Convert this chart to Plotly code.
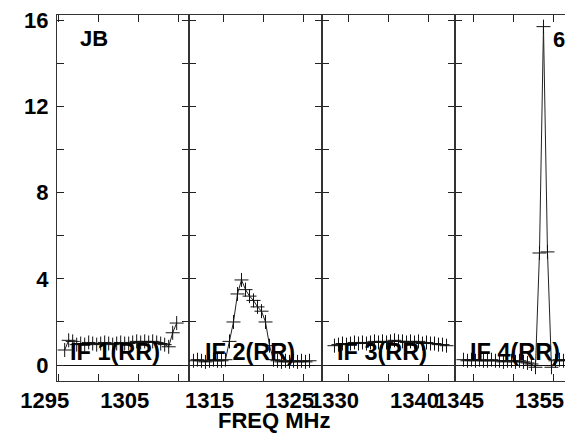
import plotly.graph_objects as go

# ---- data ----
if1_freq = [1295.75, 1296.25, 1296.75, 1297.25, 1297.75, 1298.25, 1298.75, 1299.25, 1299.75,
            1300.25, 1300.75, 1301.25, 1301.75, 1302.25, 1302.75, 1303.25, 1303.75, 1304.25,
            1304.75, 1305.25, 1305.75, 1306.25, 1306.75, 1307.25, 1307.75, 1308.25, 1308.75,
            1309.25, 1309.75]
if1_amp = [0.7, 1.15, 1.1, 0.95, 1.0, 0.95, 1.05, 1.0, 0.95,
           1.0, 1.05, 1.0, 0.95, 1.0, 1.05, 1.0, 1.0, 1.05,
           1.1, 1.05, 1.1, 1.05, 1.1, 1.05, 1.0, 0.95, 0.85,
           1.5, 1.95]

if2_freq = [1311.25, 1311.75, 1312.25, 1312.75, 1313.25, 1313.75, 1314.25, 1314.75, 1315.25,
            1315.75, 1316.25, 1316.75, 1317.25, 1317.75, 1318.25, 1318.75, 1319.25, 1319.75,
            1320.25, 1320.75, 1321.25, 1321.75, 1322.25, 1322.75, 1323.25, 1323.75, 1324.25,
            1324.75, 1325.25, 1325.75]
if2_amp = [0.2, 0.25, 0.2, 0.15, 0.2, 0.25, 0.2, 0.2, 0.25,
           1.1, 2.0, 3.3, 3.95, 3.5, 3.2, 3.0, 2.7, 2.5,
           2.0, 0.9, 0.25, 0.2, 0.15, 0.2, 0.15, 0.2, 0.15,
           0.2, 0.15, 0.2]

if3_freq = [1328.25, 1328.75, 1329.25, 1329.75, 1330.25, 1330.75, 1331.25, 1331.75, 1332.25,
            1332.75, 1333.25, 1333.75, 1334.25, 1334.75, 1335.25, 1335.75, 1336.25, 1336.75,
            1337.25, 1337.75, 1338.25, 1338.75, 1339.25, 1339.75, 1340.25, 1340.75, 1341.25,
            1341.75, 1342.25]
if3_amp = [0.9, 0.95, 1.0, 0.95, 1.0, 1.05, 1.0, 1.05, 1.0,
           1.05, 1.1, 1.05, 1.1, 1.05, 1.1, 1.15, 1.1, 1.1,
           1.05, 1.1, 1.05, 1.1, 1.0, 1.05, 1.0, 1.0, 0.95,
           0.95, 0.9]

if4_freq = [1343.75, 1344.25, 1344.75, 1345.25, 1345.75, 1346.25, 1346.75, 1347.25, 1347.75,
            1348.25, 1348.75, 1349.25, 1349.75, 1350.25, 1350.75, 1351.25, 1351.75, 1352.25,
            1352.75, 1353.25, 1353.75, 1354.25, 1354.75, 1355.25, 1355.75, 1356.25, 1356.75,
            1357.25]
if4_amp = [0.25, 0.2, 0.25, 0.2, 0.25, 0.2, 0.2, 0.25, 0.2,
           0.2, 0.15, 0.2, 0.2, 0.15, 0.2, 0.15, 0.1, 0.05,
           -0.1, 5.2, 15.7, 5.25, -0.1, 0.2, 0.25, 0.2, 0.25,
           0.2]

if_labels = ["IF 1(RR)", "IF 2(RR)", "IF 3(RR)", "IF 4(RR)"]
x_ranges = [[1294.79, 1311.29], [1310.69, 1327.31], [1326.69, 1343.31], [1342.69, 1357.44]]
x_tickvals = [[1295, 1300, 1305, 1310], [1315, 1320, 1325], [1330, 1335, 1340], [1345, 1350, 1355]]
x_ticktext = [["1295", "", "1305", ""], ["1315", "", "1325"], ["1330", "", "1340"], ["1345", "", "1355"]]
y_tickvals = [0, 2, 4, 6, 8, 10, 12, 14, 16]
y_ticktext = ["0", "", "4", "", "8", "", "12", "", "16"]
y_range = [-0.738, 16.24]

# page offset from the default 8px body margin
OFF = 8
W, H = 573 - OFF, 434 - OFF
PLOT_L, PLOT_R, PLOT_T, PLOT_B = 57, 573, 13, 381   # page pixels of the plotting area
ML, MR, MT, MB = PLOT_L - OFF, 0, PLOT_T - OFF, H - (PLOT_B - OFF)
bounds_px = [57, 189, 322, 455, 573]
pw = PLOT_R - PLOT_L
ph = PLOT_B - PLOT_T
domains = [[(bounds_px[i] - PLOT_L) / pw, (bounds_px[i + 1] - PLOT_L) / pw] for i in range(4)]


def px_x(x):
    return (x - PLOT_L) / pw


def px_y(y):
    return (PLOT_B - y) / ph


FONT = "Liberation Sans, Arial, sans-serif"
series = [(if1_freq, if1_amp), (if2_freq, if2_amp), (if3_freq, if3_amp), (if4_freq, if4_amp)]

fig = go.Figure()
for i, (fx, fy) in enumerate(series):
    ax = "" if i == 0 else str(i + 1)
    fig.add_trace(go.Scatter(
        x=fx, y=fy, mode="lines+markers",
        xaxis="x" + ax, yaxis="y" + ax,
        line=dict(color="#222222", width=1),
        marker=dict(symbol="cross-thin", size=10, line=dict(color="#111111", width=1)),
        showlegend=False, hoverinfo="skip"))

layout = dict(
    width=W, height=H, margin=dict(l=ML, r=MR, t=MT, b=MB, pad=0),
    paper_bgcolor="white", plot_bgcolor="white",
    font=dict(family=FONT, color="black"),
)
for i in range(4):
    ax = "" if i == 0 else str(i + 1)
    layout["xaxis" + ax] = dict(
        domain=domains[i], range=x_ranges[i], anchor="y" + ax,
        tickmode="array", tickvals=x_tickvals[i], ticktext=x_ticktext[i],
        ticks="inside", ticklen=7, tickwidth=1, tickcolor="#222222",
        showline=True, linecolor="#333333", linewidth=1, mirror="ticks",
        showgrid=False, zeroline=False,
        tickfont=dict(family=FONT, size=22, weight="bold", color="black"),
        ticklabelshift=-14, ticklabelstandoff=0, ticklabeloverflow="allow",
    )
    layout["yaxis" + ax] = dict(
        domain=[0, 1], range=y_range, anchor="x" + ax,
        tickmode="array", tickvals=y_tickvals, ticktext=y_ticktext,
        ticks="inside", ticklen=7, tickwidth=1, tickcolor="#222222",
        showline=True, linecolor="#333333", linewidth=1,
        mirror=("ticks" if i < 3 else False),
        showgrid=False, zeroline=True, zerolinecolor="#111111", zerolinewidth=1,
        showticklabels=(i == 0),
        tickfont=dict(family=FONT, size=22, weight="bold", color="black"),
        ticklabelstandoff=3, ticklabeloverflow="allow",
    )
fig.update_layout(**layout)

lab_font = dict(family=FONT, size=22, weight="bold", color="black")
if_font = dict(family=FONT, size=23.5, weight="bold", color="black")
annots = []
label_cx = [115, 250, 382, 515]
for i in range(4):
    annots.append(dict(text=if_labels[i], xref="paper", yref="paper",
                       x=px_x(label_cx[i]), y=px_y(351.5),
                       xanchor="center", yanchor="middle", showarrow=False, font=if_font))
annots.append(dict(text="JB", xref="paper", yref="paper", x=px_x(94), y=px_y(36.5),
                   xanchor="center", yanchor="middle", showarrow=False, font=lab_font))
annots.append(dict(text="6", xref="paper", yref="paper", x=px_x(559), y=px_y(37.5),
                   xanchor="center", yanchor="middle", showarrow=False, font=lab_font))
annots.append(dict(text="FREQ MHz", xref="paper", yref="paper", x=px_x(274), y=px_y(421),
                   xanchor="center", yanchor="middle", showarrow=False, font=lab_font))
fig.update_layout(annotations=annots)

fig.write_html("out.html")
